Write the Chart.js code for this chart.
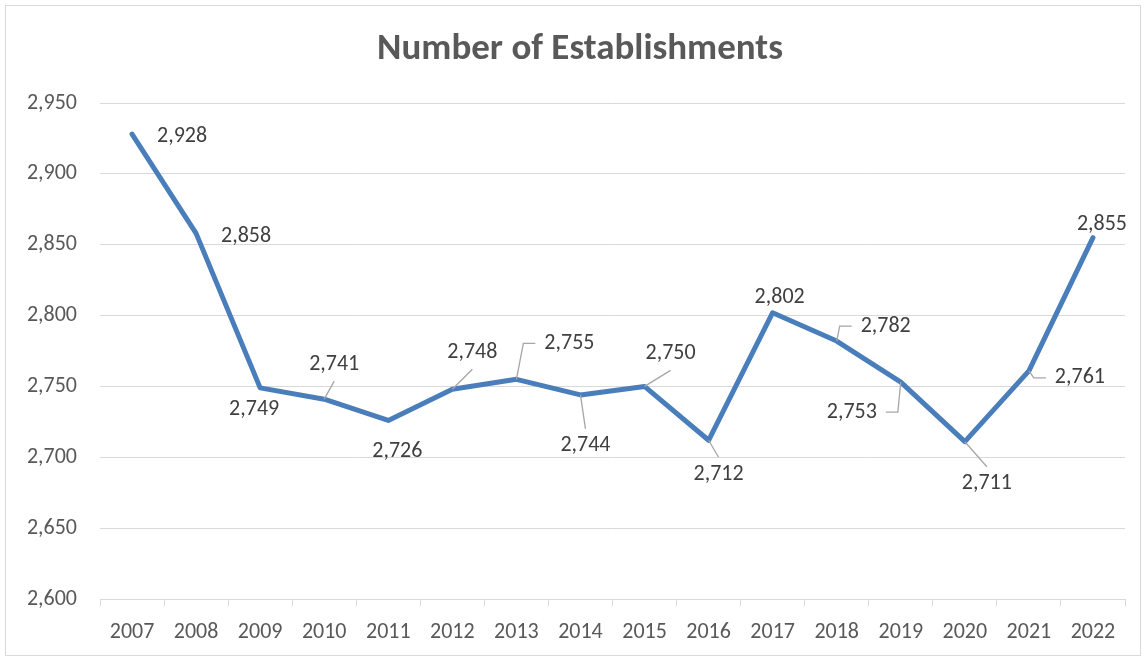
<!DOCTYPE html>
<html>
<head>
<meta charset="utf-8">
<title>Number of Establishments</title>
<script src="https://cdn.jsdelivr.net/npm/chart.js@4.4.1/dist/chart.umd.min.js"></script>
<style>
  html,body{margin:0;padding:0;background:#fff;}
  canvas{display:block;}
</style>
</head>
<body>
<canvas id="estChart" width="1146" height="661"></canvas>
<script>
// --- data ---
const years = ['2007','2008','2009','2010','2011','2012','2013','2014','2015','2016','2017','2018','2019','2020','2021','2022'];
const establishments = [2928,2858,2749,2741,2726,2748,2755,2744,2750,2712,2802,2782,2753,2711,2761,2855];
const yTicks = [2600,2650,2700,2750,2800,2850,2900,2950];
const chartTitle = 'Number of Establishments';

// label placement per point: [dx, dy, leader line?] in px from the point
const labelPlacement = [
  [50,2,false],[50,3,false],[-6,22,false],[10,-35,true],
  [9,31,false],[20,-37,true],[53,-36,true],[5,51,true],
  [26,-33,true],[10,34,true],[7,-15,false],[49,-15,true],
  [-49,30,true],[22,42,true],[51,7,true],[9,-13,false]
];

const FONT = 'Carlito, Calibri, Lato, sans-serif';
const LABEL_SIZE = 22;
const fmt = v => v.toLocaleString('en-US');

// --- outer frame + title ---
const framePlugin = {
  id:'frame',
  beforeDraw(chart){
    const c = chart.ctx;
    c.save();
    c.fillStyle = '#fff';
    c.fillRect(0,0,chart.width,chart.height);
    c.strokeStyle = '#d9d9d9';
    c.lineWidth = 1;
    c.strokeRect(5.5,5.5,chart.width-11,chart.height-11);
    c.font = 'bold 37px ' + FONT;
    c.fillStyle = '#595959';
    c.textAlign = 'center';
    c.textBaseline = 'middle';
    c.fillText(chartTitle, 580, 50);
    c.restore();
  }
};

// --- value labels with leader lines ---
const valueLabels = {
  id:'valueLabels',
  afterDatasetsDraw(chart){
    const c = chart.ctx;
    const pts = chart.getDatasetMeta(0).data;
    c.save();
    c.font = LABEL_SIZE + 'px ' + FONT;
    c.textAlign = 'center';
    c.textBaseline = 'middle';
    pts.forEach((p,i)=>{
      const [dx,dy,leader] = labelPlacement[i];
      const txt = fmt(establishments[i]);
      const cx = p.x + dx, cy = p.y + dy;
      const halfW = c.measureText(txt).width/2;
      if(leader){
        c.strokeStyle = '#a6a6a6';
        c.lineWidth = 1.3;
        c.beginPath();
        c.moveTo(p.x,p.y);
        if(Math.abs(dx) < halfW + 5){
          // label above/below: straight line to the near edge
          const s = dy > 0 ? -1 : 1;
          c.lineTo(cx, cy + s*17);
        } else {
          // label beside: line to an elbow, then a short horizontal tail
          const s = dx > 0 ? -1 : 1;
          const tailEnd = cx + s*(halfW + 9);
          c.lineTo(tailEnd + s*12, cy);
          c.lineTo(tailEnd, cy);
        }
        c.stroke();
      }
      c.fillStyle = '#404040';
      c.fillText(txt, cx, cy);
    });
    c.restore();
  }
};

new Chart(document.getElementById('estChart'),{
  type:'line',
  data:{
    labels: years,
    datasets:[{
      data: establishments,
      borderColor:'#4a7ebb',
      borderWidth:5,
      borderJoinStyle:'round',
      borderCapStyle:'round',
      pointRadius:0,
      tension:0,
      fill:false
    }]
  },
  options:{
    responsive:false,
    animation:false,
    devicePixelRatio:1,
    layout:{ padding:{ left:0, right:21, top:103, bottom:0 } },
    plugins:{
      legend:{ display:false },
      tooltip:{ enabled:false },
      title:{ display:false }
    },
    scales:{
      x:{
        offset:true,
        grid:{ offset:true, drawOnChartArea:false, drawTicks:true, tickLength:7, color:'#d9d9d9' },
        border:{ color:'#d9d9d9' },
        ticks:{ color:'#595959', padding:13, maxRotation:0, font:{ family:FONT, size:LABEL_SIZE } },
        afterFit(s){ s.height = 62; }
      },
      y:{
        min:2600, max:2950,
        afterBuildTicks(s){ s.ticks = yTicks.map(v=>({value:v})); },
        grid:{ color:'#d9d9d9', drawTicks:false },
        border:{ display:false },
        ticks:{ color:'#595959', padding:23, font:{ family:FONT, size:LABEL_SIZE }, callback:v=>fmt(v) },
        afterFit(s){ s.width = 100; }
      }
    }
  },
  plugins:[framePlugin, valueLabels]
});
</script>
</body>
</html>
